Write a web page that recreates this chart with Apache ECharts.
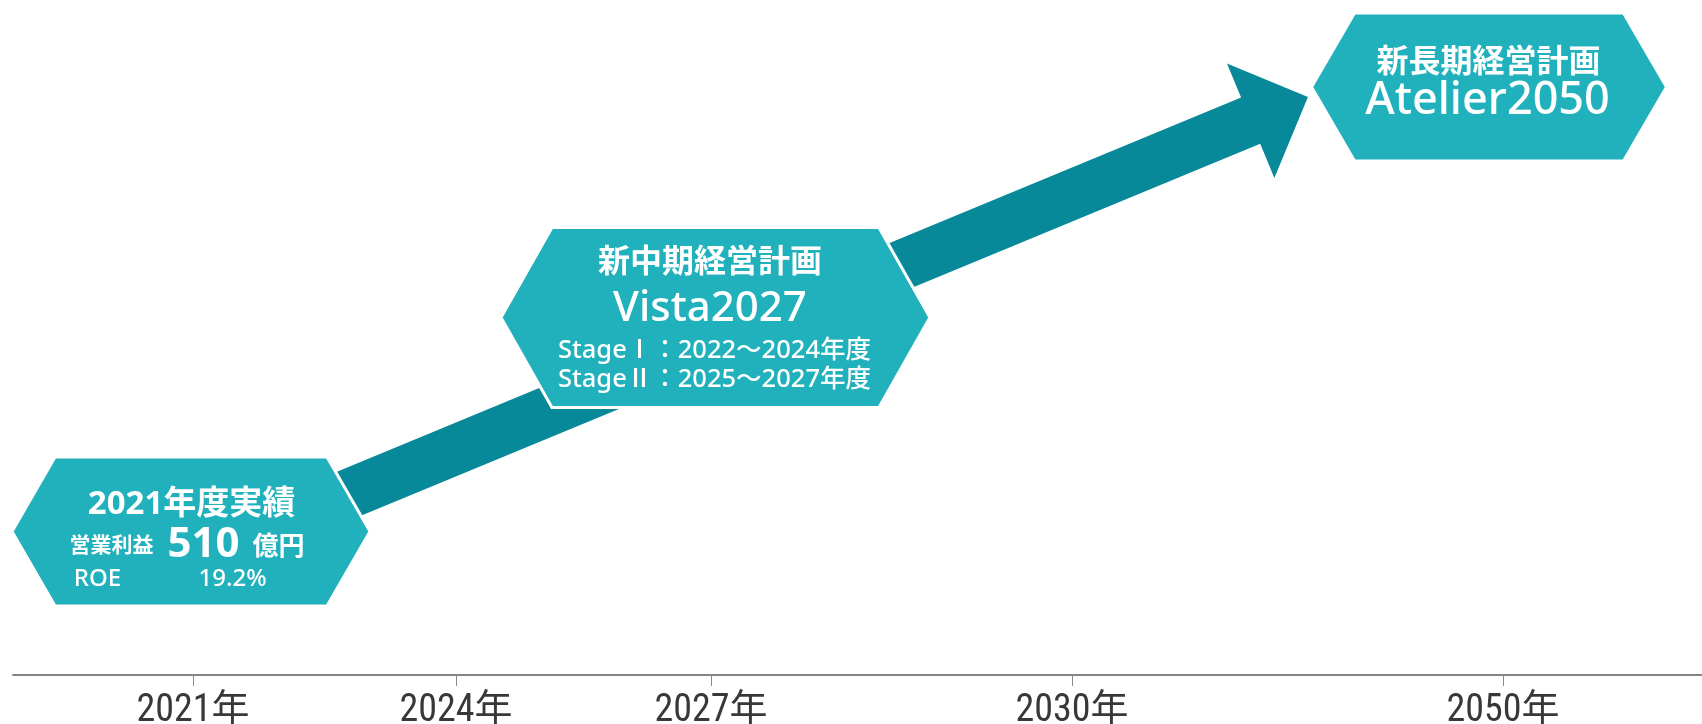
<!DOCTYPE html>
<html lang="ja">
<head>
<meta charset="utf-8">
<title>経営計画ロードマップ</title>
<script src="https://cdn.jsdelivr.net/npm/echarts@6/dist/echarts.min.js"></script>
<style>
  html, body { margin: 0; padding: 0; background: #ffffff; }
  #chart { width: 1702px; height: 724px; }
</style>
</head>
<body>
<div id="chart"></div>
<script>
// Timeline ticks: label and position along the (non-linear) timeline axis
const years = ['2021年', '2024年', '2027年', '2030年', '2050年'];
const yearPos = [10.66, 26.23, 41.33, 62.70, 88.22];

// Plan stages shown as hexagon badges
const stageNames = ['2021年度実績', '新中期経営計画', '新長期経営計画'];
const planNames = ['', 'Vista2027', 'Atelier2050'];
const stageX = [10.54, 41.59, 87.39];
const stageY = [21.26, 52.96, 87.11];

// FY2021 results
const profitLabel = '営業利益';
const profitValue = 510;
const profitUnit = '億円';
const roeLabel = 'ROE';
const roeValue = 19.2;

// Vista2027 stages
const vistaStages = ['StageⅠ：2022～2024年度', 'StageⅡ：2025～2027年度'];

// Growth arrow (tail, head) in axis units
const arrowFrom = [16.99, 23.85];
const arrowTo = [76.67, 85.63];

const FONT = '"Noto Sans", "Noto Sans CJK JP", sans-serif';
const AXIS_FONT = '"Liberation Sans Narrow", "Roboto Condensed", "Noto Sans CJK JP", sans-serif';
const BADGE_COLOR = '#21b1bc';
const ARROW_COLOR = '#07899a';

// Badge geometry (pixels) per stage
const badgeSize = [
  { w: 358, h: 149, indent: 43 },
  { w: 429, h: 180, indent: 51 },
  { w: 355, h: 148, indent: 43 }
];

function txt(x, y, text, font, align) {
  return {
    type: 'text',
    x: x, y: y,
    style: {
      text: text,
      fill: '#ffffff',
      font: font,
      align: align || 'center',
      verticalAlign: 'middle',
      textAlign: align || 'center',
      textVerticalAlign: 'middle'
    }
  };
}

function badgeTexts(i, cx, cy) {
  if (i === 0) {
    return [
      txt(cx + 0.5, cy - 27, stageNames[0], 'bold 33px ' + FONT),
      txt(cx - 79.5, cy + 15, profitLabel, 'bold 21px ' + FONT),
      txt(cx + 12.5, cy + 13.5, String(profitValue), 'bold 42px ' + FONT),
      txt(cx + 87.5, cy + 16, profitUnit, 'bold 26px ' + FONT),
      txt(cx - 93.5, cy + 47.5, roeLabel, '500 24px ' + FONT),
      txt(cx + 41.5, cy + 47.5, roeValue.toFixed(1) + '%', '500 24px ' + FONT)
    ];
  }
  if (i === 1) {
    return [
      txt(cx - 5.5, cy - 55, stageNames[1], 'bold 32px ' + FONT),
      txt(cx - 5.5, cy - 8.5, planNames[1], '500 42px ' + FONT),
      txt(cx - 157.5, cy + 33.5, vistaStages[0], '500 25.5px ' + FONT, 'left'),
      txt(cx - 157.5, cy + 62.5, vistaStages[1], '500 25.5px ' + FONT, 'left')
    ];
  }
  return [
    txt(cx - 0.5, cy - 24.5, stageNames[2], 'bold 32px ' + FONT),
    txt(cx - 1.5, cy + 14.5, planNames[2], '500 45px ' + FONT)
  ];
}

const chart = echarts.init(document.getElementById('chart'), null, { renderer: 'canvas' });

chart.setOption({
  animation: false,
  backgroundColor: '#ffffff',
  grid: {
    left: 13, right: 0, top: 0, bottom: 49,
    containLabel: false,
    outerBoundsMode: 'none'
  },
  xAxis: {
    type: 'value',
    min: 0,
    max: 100,
    splitLine: { show: false },
    axisLine: { show: true, lineStyle: { color: '#858585', width: 2 } },
    axisTick: {
      show: true,
      customValues: yearPos,
      length: 11,
      lineStyle: { color: '#8a8a8a', width: 1 }
    },
    axisLabel: {
      show: true,
      customValues: yearPos,
      margin: 17,
      color: '#383838',
      fontSize: 38,
      fontFamily: AXIS_FONT,
      formatter: function (v) {
        const k = yearPos.indexOf(v);
        return k >= 0 ? years[k] : '';
      }
    }
  },
  yAxis: { type: 'value', min: 0, max: 100, show: false },
  series: [
    {
      name: 'growth',
      type: 'custom',
      clip: false,
      z: 2,
      encode: { x: [0, 2], y: [1, 3] },
      data: [[arrowFrom[0], arrowFrom[1], arrowTo[0], arrowTo[1]]],
      renderItem: function (params, api) {
        const p0 = api.coord([api.value(0), api.value(1)]);
        const p1 = api.coord([api.value(2), api.value(3)]);
        const dx = p1[0] - p0[0], dy = p1[1] - p0[1];
        const len = Math.sqrt(dx * dx + dy * dy);
        const ux = dx / len, uy = dy / len;
        const nx = -uy, ny = ux;
        const shaft = 25, head = 62, headLen = 62;
        const bx = p1[0] - ux * headLen, by = p1[1] - uy * headLen;
        const pts = [
          [p0[0] + nx * shaft, p0[1] + ny * shaft],
          [bx + nx * shaft, by + ny * shaft],
          [bx + nx * head, by + ny * head],
          [p1[0], p1[1]],
          [bx - nx * head, by - ny * head],
          [bx - nx * shaft, by - ny * shaft],
          [p0[0] - nx * shaft, p0[1] - ny * shaft]
        ];
        return {
          type: 'polygon',
          shape: { points: pts },
          style: { fill: ARROW_COLOR }
        };
      }
    },
    {
      name: 'stages',
      type: 'custom',
      clip: false,
      z: 3,
      encode: { x: 0, y: 1 },
      data: stageX.map(function (x, i) { return [x, stageY[i], i]; }),
      renderItem: function (params, api) {
        const i = api.value(2);
        const c = api.coord([api.value(0), api.value(1)]);
        const s = badgeSize[i];
        const l = c[0] - s.w / 2, r = c[0] + s.w / 2;
        const t = c[1] - s.h / 2, b = c[1] + s.h / 2;
        const hex = {
          type: 'polygon',
          shape: {
            points: [
              [l, c[1]], [l + s.indent, t], [r - s.indent, t],
              [r, c[1]], [r - s.indent, b], [l + s.indent, b]
            ]
          },
          style: { fill: BADGE_COLOR, stroke: '#ffffff', lineWidth: 3 }
        };
        return {
          type: 'group',
          children: [hex].concat(badgeTexts(i, c[0], c[1]))
        };
      }
    }
  ]
});
</script>
</body>
</html>
